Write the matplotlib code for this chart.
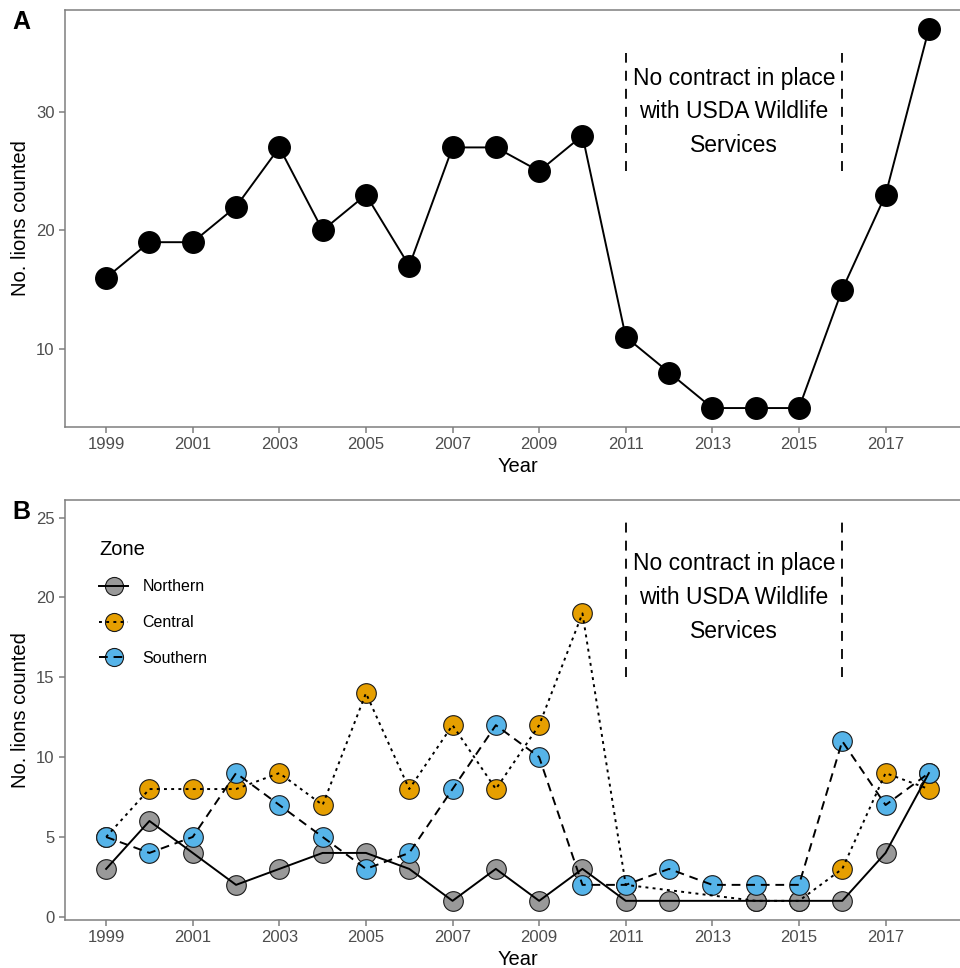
"""Lion counts per year: total (A) and by zone (B)."""
import numpy as np
import matplotlib
matplotlib.use('Agg')
import matplotlib.pyplot as plt
from matplotlib.lines import Line2D
from matplotlib.legend_handler import HandlerTuple

plt.rcParams['font.family'] = ['Liberation Sans', 'DejaVu Sans']

# ── Data ──────────────────────────────────────────────────────────────────────
years = np.arange(1999, 2019)
total = [16, 19, 19, 22, 27, 20, 23, 17, 27, 27, 25, 28, 11, 8, 5, 5, 5, 15, 23, 37]

nan = np.nan
northern = [3, 6, 4, 2, 3, 4, 4, 3, 1, 3, 1, 3, 1, 1, nan, 1, 1, 1, 4, 9]
central  = [5, 8, 8, 8, 9, 7, 14, 8, 12, 8, 12, 19, 2, nan, nan, 1, 1, 3, 9, 8]
southern = [5, 4, 5, 9, 7, 5, 3, 4, 8, 12, 10, 2, 2, 3, 2, 2, 2, 11, 7, 9]

zones = ['Northern', 'Central', 'Southern']
zone_vals = [northern, central, southern]
zone_cols = ['#999999', '#E69F00', '#56B4E9']
zone_ls = ['-', (0, (1.5, 2.2)), (0, (4.5, 3))]
point_order = [1, 0, 2]   # central points sit underneath the others

note = 'No contract in place\nwith USDA Wildlife\nServices'
tick_years = np.arange(1999, 2019, 2)

# ── Figure layout (pixel-matched) ─────────────────────────────────────────────
W, H = 960, 968
fig = plt.figure(figsize=(W / 100, H / 100), dpi=100)
fig.patch.set_facecolor('white')

def px_axes(left, top, right, bottom):
    return fig.add_axes([left / W, 1 - bottom / H, (right - left) / W, (bottom - top) / H])

axA = px_axes(65, 10, 970, 427)
axB = px_axes(65, 500, 970, 920)

GREY = '#4D4D4D'

def style(ax):
    for sp in ax.spines.values():
        sp.set_color('#7F7F7F')
        sp.set_linewidth(1.1)
    ax.tick_params(colors='#7F7F7F', labelcolor=GREY, labelsize=12, length=4, width=1.1)
    ax.set_xticks(tick_years)
    ax.set_xlim(1998.05, 2018.95)
    ax.set_xlabel('Year', fontsize=14.5, labelpad=3)
    ax.set_ylabel('No. lions counted', fontsize=14.5, labelpad=4)

# ── Panel A ───────────────────────────────────────────────────────────────────
axA.plot(years, total, color='black', lw=1.4, marker='o', ms=15.5,
         mfc='black', mec='black', zorder=3)
axA.set_ylim(3.4, 38.6)
axA.set_yticks([10, 20, 30])
for x in (2011, 2016):
    axA.plot([x, x], [25, 35], color='black', lw=1.3, ls=(0, (5.5, 4.5)), zorder=2)
axA.text(2013.5, 30, note, ha='center', va='center', fontsize=16.5, linespacing=1.6)
style(axA)

# ── Panel B ───────────────────────────────────────────────────────────────────
for i in point_order:
    v = np.array(zone_vals[i], dtype=float)
    m = ~np.isnan(v)
    axB.scatter(years[m], v[m], s=200, color=zone_cols[i], edgecolor='#1A1A1A',
                linewidth=0.8, zorder=3)
for vals, ls in zip(zone_vals, zone_ls):
    v = np.array(vals, dtype=float)
    m = ~np.isnan(v)
    axB.plot(years[m], v[m], color='black', lw=1.4, ls=ls, zorder=4)

axB.set_ylim(-0.2, 26.1)
axB.set_yticks([0, 5, 10, 15, 20, 25])
for x in (2011, 2016):
    axB.plot([x, x], [15, 25], color='black', lw=1.3, ls=(0, (5.5, 4.5)), zorder=2)
axB.text(2013.5, 20, note, ha='center', va='center', fontsize=16.5, linespacing=1.6)
style(axB)

handles = []
for col, ls in zip(zone_cols, zone_ls):
    pt = Line2D([], [], ls='none', marker='o', ms=13, mfc=col, mec='#1A1A1A', mew=0.8)
    ln = Line2D([], [], color='black', lw=1.4, ls=ls)
    handles.append((pt, ln))
leg = axB.legend(handles, zones, handler_map={tuple: HandlerTuple(ndivide=1)},
                 title='Zone', loc='upper left', bbox_to_anchor=(0.022, 0.94),
                 frameon=False, fontsize=11.5, title_fontsize=14.5,
                 handlelength=1.8, labelspacing=1.3, handletextpad=0.9,
                 alignment='left')

# ── Panel letters ─────────────────────────────────────────────────────────────
fig.text(12 / W, 1 - 22 / H, 'A', fontsize=18, fontweight='bold', va='center')
fig.text(12 / W, 1 - 512 / H, 'B', fontsize=18, fontweight='bold', va='center')

fig.savefig('out.png', dpi=100, facecolor='white')
